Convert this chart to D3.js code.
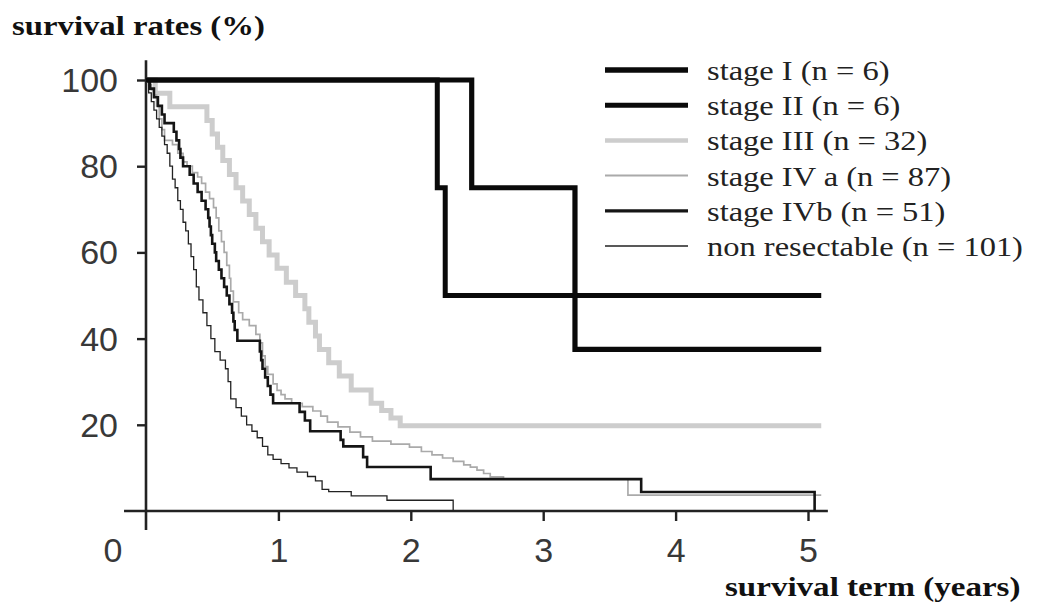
<!DOCTYPE html>
<html>
<head>
<meta charset="utf-8">
<script src="https://cdn.jsdelivr.net/npm/d3@7"></script>
<style>
  html, body { margin: 0; padding: 0; background: #fff; }
  svg { display: block; }
</style>
</head>
<body>
<svg id="chart" width="1037" height="606"></svg>
<script>
// ---------------- DATA ----------------
const xTicks = [1, 2, 3, 4, 5];
const yTicks = [20, 40, 60, 80, 100];
const yTitle = "survival rates (%)";
const xTitle = "survival term (years)";

// Kaplan–Meier step points: [years, survival %] (value after the step)
const stageI = [[0,100],[2.46,75],[3.24,37.5],[5.1,37.5]];
const stageII = [[0,100],[2.2,75],[2.26,50],[5.1,50]];
const stageIII = [[0,100],[0.07,96.9],[0.18,93.8],[0.46,90.6],[0.5,87.5],[0.54,84.4],[0.58,81.3],
  [0.63,78.1],[0.68,75],[0.73,71.9],[0.78,68.8],[0.83,65.6],[0.88,62.5],[0.93,59.4],[0.99,56.3],
  [1.06,53.1],[1.13,50],[1.2,46.9],[1.23,43.8],[1.28,40.6],[1.31,37.5],[1.38,34.4],[1.46,31.3],
  [1.55,28.1],[1.7,25],[1.78,23.3],[1.85,21.6],[1.92,19.8],[5.1,19.8]];
const stageIVa = [[0,100],[0.02,98.9],[0.04,97.7],[0.06,96.5],[0.08,94],[0.1,91],[0.12,88.5],
  [0.14,86],[0.2,85],[0.24,83],[0.28,81],[0.31,80],[0.35,78.5],[0.39,77.5],[0.42,76],[0.45,74],
  [0.48,72.5],[0.51,70.4],[0.53,68],[0.55,65],[0.57,62.5],[0.59,60],[0.61,57],[0.63,54],[0.64,51],
  [0.66,48.5],[0.7,46],[0.73,44.4],[0.78,43],[0.83,41],[0.86,39],[0.88,36],[0.9,33.5],[0.92,31.7],
  [0.96,29.5],[0.99,28],[1.02,27],[1.05,26],[1.1,25],[1.18,24.2],[1.26,23.2],[1.32,22],[1.37,20.6],
  [1.45,19.5],[1.54,18.3],[1.62,17.2],[1.71,16.2],[1.85,15.5],[1.99,14.8],[2.08,13.8],[2.16,13],
  [2.24,12.3],[2.32,11.5],[2.4,10.7],[2.45,10.2],[2.5,9.5],[2.55,8.7],[2.6,7.9],[2.7,7.4],
  [3.64,3.7],[5.1,3.7]];
const stageIVb = [[0,100],[0.03,98],[0.06,96],[0.09,94],[0.12,92],[0.14,90],[0.21,88],[0.23,86],
  [0.25,84],[0.26,82],[0.28,80],[0.33,78],[0.36,76],[0.39,74],[0.42,72],[0.45,70],[0.47,68],
  [0.48,66],[0.49,64],[0.5,62],[0.52,60],[0.53,58],[0.55,56],[0.57,54],[0.59,52],[0.61,50],
  [0.63,48],[0.65,46],[0.66,44],[0.67,42],[0.69,39.5],[0.86,37],[0.87,35],[0.88,33],[0.9,31],
  [0.92,29],[0.94,27],[0.96,25],[1.16,23],[1.2,21],[1.24,18.5],[1.47,16.5],[1.49,15],[1.64,12.5],
  [1.67,10.2],[2.15,7.4],[3.74,4.4],[5.05,0]];
const nonResectable = [[0,100],[0.02,97],[0.04,95],[0.06,93],[0.08,91],[0.1,89],[0.12,87],
  [0.14,85],[0.16,83],[0.18,80],[0.2,77],[0.22,75],[0.24,72],[0.26,70],[0.28,67],[0.3,65],
  [0.32,62],[0.34,59],[0.36,56],[0.38,52],[0.4,49],[0.43,46],[0.46,43],[0.49,40],[0.52,37],
  [0.56,35],[0.6,33],[0.62,30],[0.64,26],[0.68,24],[0.72,22],[0.76,20],[0.8,18.5],[0.84,17],
  [0.88,15],[0.92,13],[0.96,12],[1.02,11],[1.08,10],[1.14,9],[1.22,8],[1.28,7],[1.33,5],
  [1.38,4.5],[1.55,3.5],[1.82,2.5],[2.32,0]];

const seriesNames = ["stage I (n = 6)","stage II (n = 6)","stage III (n = 32)",
  "stage IV a (n = 87)","stage IVb (n = 51)","non resectable (n = 101)"];
const seriesData = [stageI, stageII, stageIII, stageIVa, stageIVb, nonResectable];

// ---------------- STYLES ----------------
const styles = [
  {color:"#0a0a0a", width:5.2, legendWidth:5.5},
  {color:"#0a0a0a", width:5.0, legendWidth:5},
  {color:"#cdcdcd", width:5.0, legendWidth:4.5},
  {color:"#aaaaaa", width:1.7, legendWidth:2},
  {color:"#151515", width:2.6, legendWidth:3.2},
  {color:"#222222", width:1.3, legendWidth:1.6}
];
const drawOrder = [2, 3, 5, 4, 1, 0];

// ---------------- CHART ----------------
const svg = d3.select("#chart");
const x = d3.scaleLinear().domain([0, 5]).range([146, 808]);
const y = d3.scaleLinear().domain([0, 100]).range([511, 80]);
const axisColor = "#222";

function stretch(sel, f) {
  sel.each(function() {
    const w = this.getComputedTextLength();
    d3.select(this).attr("textLength", w * f).attr("lengthAdjust", "spacingAndGlyphs");
  });
}

// axes lines
svg.append("line")
  .attr("x1", x(0)).attr("x2", x(0))
  .attr("y1", y(104.6)).attr("y2", y(-4.4))
  .attr("stroke", axisColor).attr("stroke-width", 2.6);
svg.append("line")
  .attr("x1", x(-0.166)).attr("x2", x(5.15))
  .attr("y1", y(0)).attr("y2", y(0))
  .attr("stroke", axisColor).attr("stroke-width", 2.6);

const yAxis = svg.append("g")
  .attr("transform", `translate(${x(0)},0)`)
  .call(d3.axisLeft(y).tickValues(yTicks).tickFormat(d3.format("d")).tickSize(9).tickPadding(19));
const xAxis = svg.append("g")
  .attr("transform", `translate(0,${y(0)})`)
  .call(d3.axisBottom(x).tickValues(xTicks).tickFormat(d3.format("d")).tickSize(10).tickPadding(17));
[yAxis, xAxis].forEach(g => {
  g.select(".domain").remove();
  g.selectAll(".tick line").attr("stroke", axisColor).attr("stroke-width", 2.4);
  g.selectAll(".tick text")
    .attr("fill", "#383838")
    .style("font-family", "'Liberation Sans', Arial, sans-serif")
    .style("font-size", "34px");
});
yAxis.selectAll(".tick text").attr("dy", "0.34em");

// corner "0" label
svg.append("text")
  .attr("x", x(-0.25)).attr("y", y(0) + 10 + 17)
  .attr("dy", "0.71em")
  .attr("text-anchor", "middle")
  .attr("fill", "#383838")
  .style("font-family", "'Liberation Sans', Arial, sans-serif")
  .style("font-size", "34px")
  .text("0");

// curves
const line = d3.line()
  .x(d => x(d[0]))
  .y(d => y(d[1]))
  .curve(d3.curveStepAfter);

drawOrder.forEach(i => {
  svg.append("path")
    .datum(seriesData[i])
    .attr("d", line)
    .attr("fill", "none")
    .attr("stroke", styles[i].color)
    .attr("stroke-width", styles[i].width)
    .attr("stroke-linejoin", "miter")
    .attr("stroke-linecap", "butt");
});

// titles
const serif = "'Liberation Serif', 'Times New Roman', serif";
svg.append("text")
  .attr("x", 12).attr("y", 35)
  .attr("fill", "#111")
  .style("font-family", serif).style("font-weight", "bold").style("font-size", "28px")
  .text(yTitle)
  .call(stretch, 1.17);
svg.append("text")
  .attr("x", 725).attr("y", 596)
  .attr("fill", "#111")
  .style("font-family", serif).style("font-weight", "bold").style("font-size", "28px")
  .text(xTitle)
  .call(stretch, 1.18);

// legend
const legend = svg.append("g");
const legendTop = 70, legendStep = 35.2;
seriesNames.forEach((name, i) => {
  const ly = legendTop + i * legendStep;
  legend.append("line")
    .attr("x1", 605).attr("x2", 688)
    .attr("y1", ly).attr("y2", ly)
    .attr("stroke", styles[i].color)
    .attr("stroke-width", styles[i].legendWidth);
  legend.append("text")
    .attr("x", 707).attr("y", ly + 10)
    .attr("fill", "#222")
    .style("font-family", serif).style("font-size", "28px")
    .text(name)
    .call(stretch, 1.16);
});
</script>
</body>
</html>
